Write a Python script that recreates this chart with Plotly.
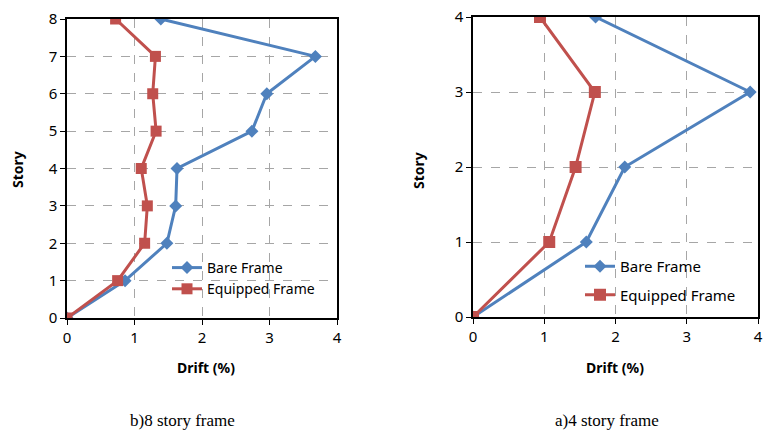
import plotly.graph_objects as go

stories8 = [0, 1, 2, 3, 4, 5, 6, 7, 8]
bare8 = [0, 0.86, 1.48, 1.61, 1.63, 2.74, 2.96, 3.68, 1.39]
equip8 = [0, 0.75, 1.15, 1.19, 1.10, 1.32, 1.27, 1.31, 0.72]

stories4 = [0, 1, 2, 3, 4]
bare4 = [0, 1.59, 2.13, 3.89, 1.72]
equip4 = [0, 1.07, 1.44, 1.71, 0.94]

xticks = [0, 1, 2, 3, 4]
blue = "#4F81BD"
red = "#C0504D"
font = "Noto Sans"

fig = go.Figure()
fig.add_trace(go.Scatter(x=bare8, y=stories8, mode="lines+markers", name="Bare Frame",
                         line=dict(color=blue, width=3), marker=dict(symbol="diamond", size=10, color=blue),
                         xaxis="x", yaxis="y", legend="legend"))
fig.add_trace(go.Scatter(x=equip8, y=stories8, mode="lines+markers", name="Equipped Frame",
                         line=dict(color=red, width=3), marker=dict(symbol="square", size=11, color=red),
                         xaxis="x", yaxis="y", legend="legend"))
fig.add_trace(go.Scatter(x=bare4, y=stories4, mode="lines+markers", name="Bare Frame",
                         line=dict(color=blue, width=3), marker=dict(symbol="diamond", size=10, color=blue),
                         xaxis="x2", yaxis="y2", legend="legend2", legendgroup="b4"))
fig.add_trace(go.Scatter(x=equip4, y=stories4, mode="lines+markers", name="Equipped Frame",
                         line=dict(color=red, width=3), marker=dict(symbol="square", size=12, color=red),
                         xaxis="x2", yaxis="y2", legend="legend2", legendgroup="e4"))

W, H = 765, 432
def dx(p): return p / W
def dy(p): return 1 - p / H

axcommon = dict(showgrid=True, gridcolor="#A6A6A6", griddash="dash", gridwidth=1,
                showline=True, linecolor="black", linewidth=1.5, mirror=True,
                ticks="outside", ticklen=5, tickcolor="black", zeroline=False,
                automargin=False,
                tickfont=dict(family=font, size=15, color="black"))

fig.update_layout(
    width=W, height=H, margin=dict(l=0, r=0, t=0, b=0),
    paper_bgcolor="white", plot_bgcolor="white",
    xaxis=dict(domain=[dx(67), dx(337)], range=[0, 4], tickvals=xticks, anchor="y", **axcommon),
    yaxis=dict(domain=[dy(318), dy(19)], range=[0, 8], dtick=1, anchor="x", **axcommon),
    xaxis2=dict(domain=[dx(473), dx(758)], range=[0, 4], tickvals=xticks, anchor="y2", **axcommon),
    yaxis2=dict(domain=[dy(317), dy(17)], range=[0, 4], dtick=1, anchor="x2", **axcommon),
    legend=dict(x=dx(167), y=dy(252), xanchor="left", yanchor="top", bgcolor="rgba(0,0,0,0)",
                font=dict(family=font, size=14, color="black"), tracegroupgap=0),
    legend2=dict(x=dx(580), y=dy(250), xanchor="left", yanchor="top", bgcolor="rgba(0,0,0,0)",
                 font=dict(family=font, size=15, color="black"), tracegroupgap=6),
    showlegend=True,
)

bold = dict(family=font, size=14, color="black")
ann = [
    dict(text="<b>Story</b>", x=dx(17), y=dy(170), textangle=-90),
    dict(text="<b>Story</b>", x=dx(418), y=dy(170), textangle=-90),
    dict(text="<b>Drift (%)</b>", x=dx(206), y=dy(367)),
    dict(text="<b>Drift (%)</b>", x=dx(615), y=dy(367)),
]
for a in ann:
    fig.add_annotation(xref="paper", yref="paper", showarrow=False, font=bold,
                       xanchor="center", yanchor="middle", **a)
cap = dict(family="Liberation Serif", size=17, color="black")
fig.add_annotation(text="b)8 story frame", x=dx(182), y=dy(420), xref="paper", yref="paper",
                   showarrow=False, font=cap, xanchor="center", yanchor="middle")
fig.add_annotation(text="a)4 story frame", x=dx(607), y=dy(420), xref="paper", yref="paper",
                   showarrow=False, font=cap, xanchor="center", yanchor="middle")

fig.write_html("out.html", config={"displayModeBar": False},
               post_script="document.body.style.margin='0';document.body.style.overflow='hidden';")
